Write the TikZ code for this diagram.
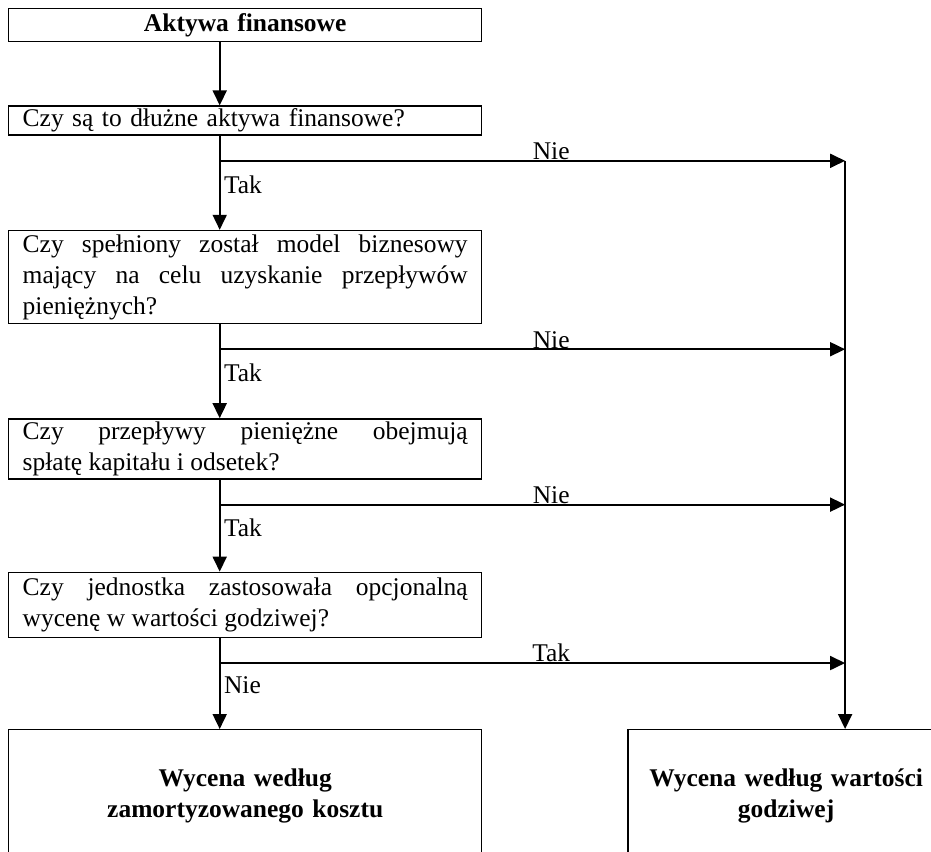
\documentclass[tikz,border=0pt]{standalone}
\usepackage{fontspec}
\setmainfont{Liberation Serif}
\usetikzlibrary{positioning, arrows.meta}

\begin{document}
\hyphenpenalty=10000
\begin{tikzpicture}[auto, node distance=1.88cm, >={Triangle[length=0.3cm, width=0.28cm]},
    font=\fontsize{14.5}{17.6}\selectfont,
    box/.style={rectangle, draw, line width=0.8pt, inner xsep=0.28cm, inner ysep=0pt, text width=8.9cm},
    title/.style={box, align=center, font=\fontsize{14.5}{17.6}\selectfont\bfseries},
    flow/.style={->, line width=1pt}]
    \useasboundingbox (0,0) rectangle (18.62,-17.02);

    \node [title, minimum height=0.66cm, anchor=north west] (assets) at (0.16,-0.16) {Aktywa finansowe};
    \node [box, align=left, minimum height=0.58cm, below=1.26cm of assets] (debt) {Czy są to dłużne aktywa finansowe?};
    \node [box, align=justify, minimum height=1.86cm, below=of debt] (model) {Czy spełniony został model biznesowy mający na celu uzyskanie przepływów pieniężnych?};
    \node [box, align=justify, minimum height=1.2cm, below=of model] (flows) {Czy przepływy pieniężne obejmują\linebreak spłatę kapitału i odsetek?};
    \node [box, align=justify, minimum height=1.3cm, below=1.84cm of flows] (option) {Czy jednostka zastosowała opcjonalną wycenę w wartości godziwej?};
    \node [title, minimum height=2.64cm, below=1.82cm of option] (amortised) {Wycena według\\zamortyzowanego kosztu};
    \node [title, text width=5.9cm, inner xsep=0.21cm, minimum height=2.64cm, right=2.9cm of amortised] (fair) {Wycena według wartości\\godziwej};

    \coordinate (spine) at ([xshift=-0.51cm]assets.south);
    \coordinate (rail) at ([xshift=1.18cm]fair.north);

    \coordinate (split1) at ([yshift=-0.5cm]debt.south -| spine);
    \coordinate (split2) at ([yshift=-0.5cm]model.south -| spine);
    \coordinate (split3) at ([yshift=-0.5cm]flows.south -| spine);
    \coordinate (split4) at ([yshift=-0.5cm]option.south -| spine);

    \draw[flow] (assets.south -| spine) -- (debt.north -| spine);
    \draw[flow] (debt.south -| spine) -- node[pos=0.52, anchor=west, inner sep=2pt] {Tak} (model.north -| spine);
    \draw[flow] (model.south -| spine) -- node[pos=0.52, anchor=west, inner sep=2pt] {Tak} (flows.north -| spine);
    \draw[flow] (flows.south -| spine) -- node[pos=0.52, anchor=west, inner sep=2pt] {Tak} (option.north -| spine);
    \draw[flow] (option.south -| spine) -- node[pos=0.52, anchor=west, inner sep=2pt] {Nie} (amortised.north -| spine);

    \draw[flow] (split1) -- node[pos=0.53, above, inner sep=0pt] {Nie} (split1 -| rail);
    \draw[flow] (split2) -- node[pos=0.53, above, inner sep=0pt] {Nie} (split2 -| rail);
    \draw[flow] (split3) -- node[pos=0.53, above, inner sep=0pt] {Nie} (split3 -| rail);
    \draw[flow] (split4) -- node[pos=0.53, above, inner sep=0pt] {Tak} (split4 -| rail);

    \draw[flow] (split1 -| rail) -- (rail);
\end{tikzpicture}
\end{document}
